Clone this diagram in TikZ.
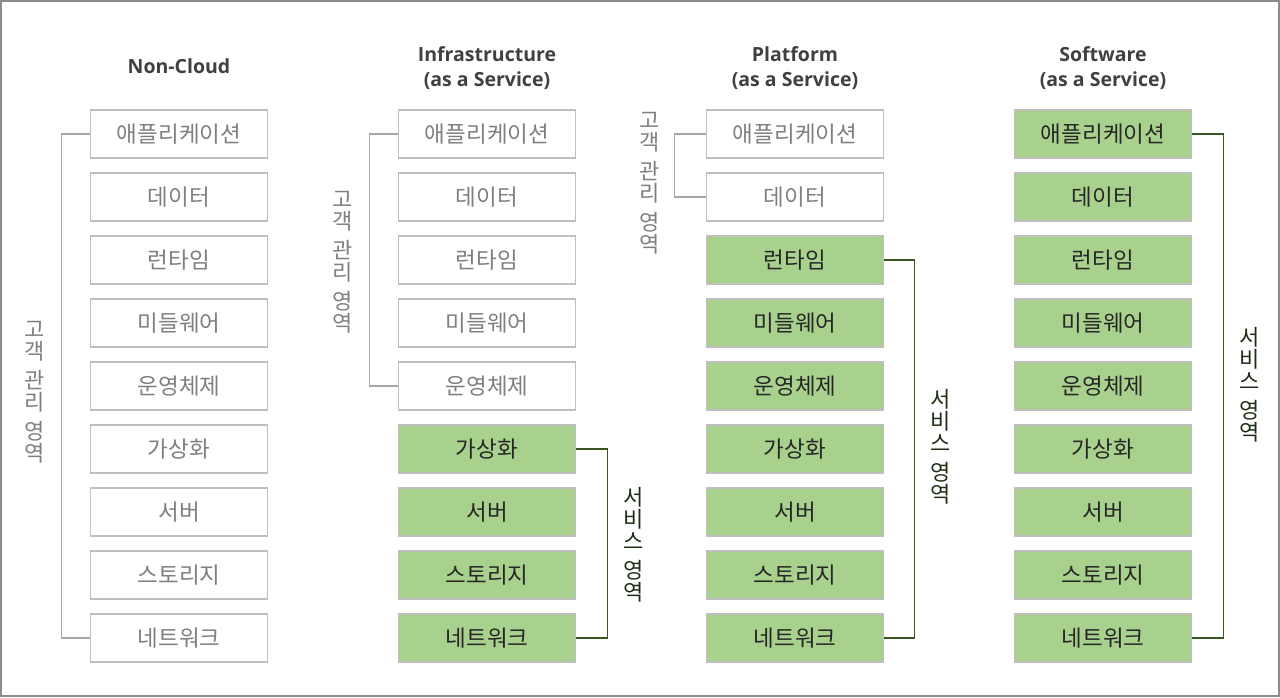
\documentclass[tikz,border=0pt]{standalone}
\usepackage{fontspec}
\setmainfont{Noto Sans CJK KR}
\newfontfamily\ttlfont{Open Sans}
\definecolor{boxline}{HTML}{BFBFBF}
\definecolor{greyTxt}{HTML}{7F7F7F}
\definecolor{darkTxt}{HTML}{262626}
\definecolor{greenFill}{HTML}{A9D18E}
\definecolor{greenLine}{HTML}{385723}
\definecolor{greenTxt}{HTML}{1F2E16}
\definecolor{bracketGrey}{HTML}{A6A6A6}
\definecolor{frameGrey}{HTML}{8C8C8C}
\definecolor{titleTxt}{HTML}{404040}
\tikzset{
  layer/.style={draw=boxline, line width=1.5pt, minimum width=177pt, minimum height=48pt, inner sep=0pt,
    font=\fontsize{22.5}{24}\selectfont},
  custbox/.style={layer, fill=white, text=greyTxt},
  svcbox/.style={layer, fill=greenFill, text=darkTxt},
  ttl/.style={font=\ttlfont\bfseries\fontsize{19.5}{25}\selectfont, text=titleTxt, align=center},
  custbr/.style={draw=bracketGrey, line width=1.3pt},
  svcbr/.style={draw=greenLine, line width=1.3pt},
  custlbl/.style={text=greyTxt, align=center, inner sep=0pt, font=\fontsize{22}{22}\selectfont},
  svclbl/.style={text=greenTxt, align=center, inner sep=0pt, font=\fontsize{22}{22}\selectfont},
}
\begin{document}
\begin{tikzpicture}[x=1pt,y=-1pt]
\useasboundingbox (0,0) rectangle (1280,697);
\draw[frameGrey, line width=2pt] (1,1) rectangle (1279,696);

% titles
\node[ttl] (t1) at (179,66) {Non-Cloud};
\node[ttl] (t2) at (487,68) {Infrastructure\\(as a Service)};
\node[ttl] (t3) at (795,68) {Platform\\(as a Service)};
\node[ttl] (t4) at (1103,68) {Software\\(as a Service)};

% column 1: all customer
\foreach \i/\t in {1/애플리케이션,2/데이터,3/런타임,4/미들웨어,5/운영체제,6/가상화,7/서버,8/스토리지,9/네트워크}
  \node[custbox] (a\i) at (179,{134+63*(\i-1)}) {\t};

% column 2: IaaS
\foreach \i/\t in {1/애플리케이션,2/데이터,3/런타임,4/미들웨어,5/운영체제}
  \node[custbox] (b\i) at (487,{134+63*(\i-1)}) {\t};
\foreach \i/\t in {6/가상화,7/서버,8/스토리지,9/네트워크}
  \node[svcbox] (b\i) at (487,{134+63*(\i-1)}) {\t};

% column 3: PaaS
\foreach \i/\t in {1/애플리케이션,2/데이터}
  \node[custbox] (c\i) at (795,{134+63*(\i-1)}) {\t};
\foreach \i/\t in {3/런타임,4/미들웨어,5/운영체제,6/가상화,7/서버,8/스토리지,9/네트워크}
  \node[svcbox] (c\i) at (795,{134+63*(\i-1)}) {\t};

% column 4: SaaS
\foreach \i/\t in {1/애플리케이션,2/데이터,3/런타임,4/미들웨어,5/운영체제,6/가상화,7/서버,8/스토리지,9/네트워크}
  \node[svcbox] (d\i) at (1103,{134+63*(\i-1)}) {\t};

% brackets
\draw[custbr] (a1.west) -- ++(-28,0) |- (a9.west);
\draw[custbr] (b1.west) -- ++(-28,0) |- (b5.west);
\draw[custbr] (c1.west) -- ++(-31,0) |- (c2.west);
\draw[svcbr] (b6.east) -- ++(31,0) |- (b9.east);
\draw[svcbr] (c3.east) -- ++(30,0) |- (c9.east);
\draw[svcbr] (d1.east) -- ++(31,0) |- (d9.east);

% vertical labels
\node[custlbl] (la) at (35,392) {고\\객\\[7pt]관\\리\\[7pt]영\\역};
\node[custlbl] (lb) at (343,262) {고\\객\\[7pt]관\\리\\[7pt]영\\역};
\node[custlbl] (lc) at (650,183) {고\\객\\[7pt]관\\리\\[7pt]영\\역};
\node[svclbl] (sb) at (634,545) {서\\비\\스\\[7pt]영\\역};
\node[svclbl] (sc) at (941,447) {서\\비\\스\\[7pt]영\\역};
\node[svclbl] (sd) at (1250,385) {서\\비\\스\\[7pt]영\\역};
\end{tikzpicture}
\end{document}
